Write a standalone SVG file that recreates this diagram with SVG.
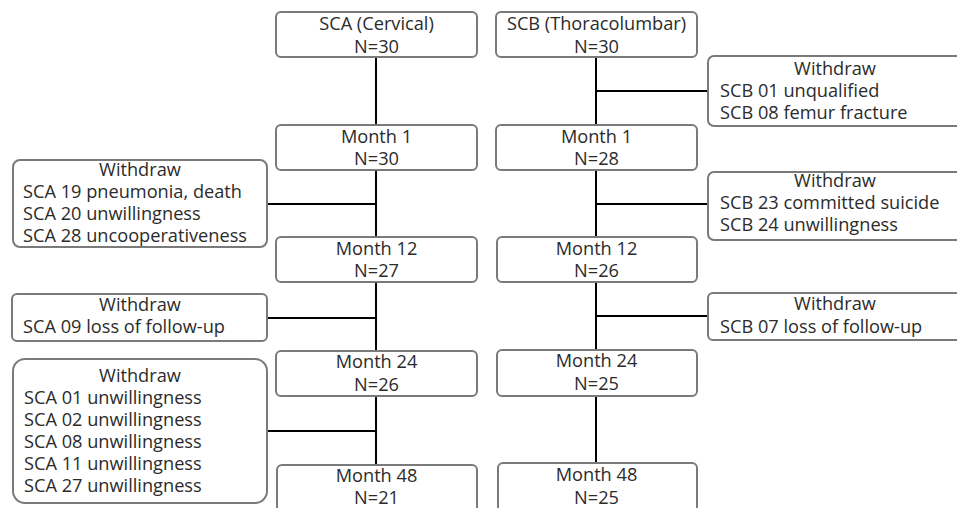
<svg xmlns="http://www.w3.org/2000/svg" width="957" height="508" viewBox="0 0 957 508">
<style>
.box{fill:#fff;stroke:#7a7a7a;stroke-width:2}
.t{font-family:"Open Sans","Liberation Sans",sans-serif;font-size:18.2px;fill:#2b2b2b}
.c{text-anchor:middle}
.ln{stroke:#000;stroke-width:2;fill:none}
</style>
<rect width="957" height="508" fill="#fff"/>
<g id="connectors">
<path class="ln" d="M376 57V125M376 170V237M376 282V350M376 396V465M267 204H376M267 318H376M267 431H376"/>
<path class="ln" d="M596 57V125M596 170V237M596 282V350M596 396V463M596 91H708M596 204H708M596 316H708"/>
</g>
<g id="sca-start"><rect class="box" x="276" y="12" width="201" height="45" rx="5"/><text class="t c" x="376.5" y="30">SCA (Cervical)</text><text class="t c" x="376.5" y="52.5">N=30</text></g>
<g id="sca-m1"><rect class="box" x="276" y="125" width="201" height="45" rx="5"/><text class="t c" x="376.5" y="143">Month 1</text><text class="t c" x="376.5" y="165">N=30</text></g>
<g id="sca-m12"><rect class="box" x="276" y="237" width="201" height="45" rx="5"/><text class="t c" x="376.5" y="255">Month 12</text><text class="t c" x="376.5" y="277">N=27</text></g>
<g id="sca-m24"><rect class="box" x="276" y="351" width="201" height="45" rx="5"/><text class="t c" x="376.5" y="368">Month 24</text><text class="t c" x="376.5" y="391">N=26</text></g>
<g id="sca-m48"><rect class="box" x="277" y="465" width="200" height="50" rx="5"/><text class="t c" x="376.5" y="482">Month 48</text><text class="t c" x="376.5" y="504">N=21</text></g>
<g id="scb-start"><rect class="box" x="496" y="12" width="201" height="45" rx="5"/><text class="t c" x="596.5" y="30">SCB (Thoracolumbar)</text><text class="t c" x="596.5" y="52.5">N=30</text></g>
<g id="scb-m1"><rect class="box" x="496" y="125" width="201" height="45" rx="5"/><text class="t c" x="596.5" y="143">Month 1</text><text class="t c" x="596.5" y="165">N=28</text></g>
<g id="scb-m12"><rect class="box" x="497" y="237" width="200" height="45" rx="5"/><text class="t c" x="596.5" y="255">Month 12</text><text class="t c" x="596.5" y="277">N=26</text></g>
<g id="scb-m24"><rect class="box" x="497" y="350" width="200" height="46" rx="5"/><text class="t c" x="596.5" y="367">Month 24</text><text class="t c" x="596.5" y="390">N=25</text></g>
<g id="scb-m48"><rect class="box" x="498" y="463" width="199" height="50" rx="5"/><text class="t c" x="596.5" y="481">Month 48</text><text class="t c" x="596.5" y="504">N=25</text></g>
<g id="sca-w1"><rect class="box" x="13" y="160" width="254" height="87" rx="7"/><text class="t c" x="140" y="176">Withdraw</text><text class="t" x="23" y="198">SCA 19 pneumonia, death</text><text class="t" x="23" y="220">SCA 20 unwillingness</text><text class="t" x="23" y="242">SCA 28 uncooperativeness</text></g>
<g id="sca-w2"><rect class="box" x="12" y="294" width="255" height="47" rx="5"/><text class="t c" x="140" y="311">Withdraw</text><text class="t" x="23" y="333">SCA 09 loss of follow-up</text></g>
<g id="sca-w3"><rect class="box" x="13" y="359" width="254" height="144" rx="12"/><text class="t c" x="140" y="382">Withdraw</text><text class="t" x="24" y="404">SCA 01 unwillingness</text><text class="t" x="24" y="426">SCA 02 unwillingness</text><text class="t" x="24" y="448">SCA 08 unwillingness</text><text class="t" x="24" y="470">SCA 11 unwillingness</text><text class="t" x="24" y="492">SCA 27 unwillingness</text></g>
<g id="scb-w1"><rect class="box" x="708" y="56" width="254" height="70" rx="6"/><text class="t c" x="835" y="75">Withdraw</text><text class="t" x="720" y="97">SCB 01 unqualified</text><text class="t" x="720" y="119">SCB 08 femur fracture</text></g>
<g id="scb-w2"><rect class="box" x="708" y="172" width="254" height="68" rx="6"/><text class="t c" x="835" y="187">Withdraw</text><text class="t" x="720" y="209">SCB 23 committed suicide</text><text class="t" x="720" y="231">SCB 24 unwillingness</text></g>
<g id="scb-w3"><rect class="box" x="708" y="293" width="254" height="47" rx="5"/><text class="t c" x="835" y="310">Withdraw</text><text class="t" x="720" y="333">SCB 07 loss of follow-up</text></g>
</svg>
